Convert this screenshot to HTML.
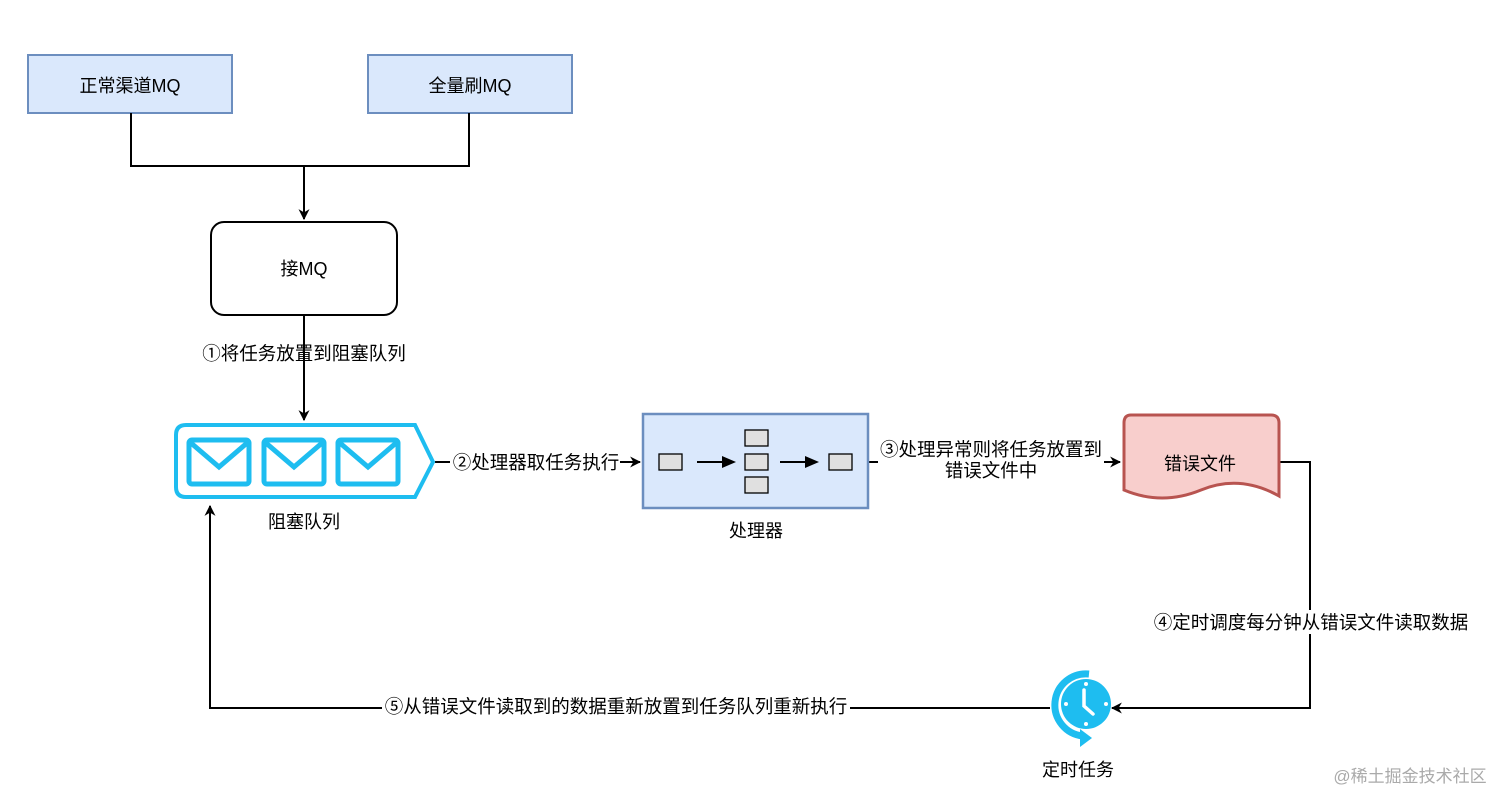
<!DOCTYPE html>
<html><head><meta charset="utf-8"><style>
body{margin:0;background:#fff;}
svg{display:block}
text{font-family:"Liberation Sans","Noto Sans CJK SC",sans-serif;font-size:18px;fill:#000;}
.l{font-size:18.5px}
</style></head><body>
<svg width="1512" height="808" viewBox="0 0 1512 808" xmlns="http://www.w3.org/2000/svg">
<defs>
<marker id="a" viewBox="0 0 10 10" refX="9" refY="5" markerWidth="11" markerHeight="11" orient="auto" markerUnits="userSpaceOnUse"><path d="M0,0 L10,5 L0,10 L3,5 Z" fill="#000"/></marker>
</defs>
<rect x="28" y="55" width="204" height="58" fill="#dae8fc" stroke="#6c8ebf" stroke-width="2"/>
<text x="130" y="92" text-anchor="middle">正常渠道MQ</text>
<rect x="368" y="55" width="204" height="58" fill="#dae8fc" stroke="#6c8ebf" stroke-width="2"/>
<text x="470" y="92" text-anchor="middle">全量刷MQ</text>
<g fill="none" stroke="#000" stroke-width="2">
<path d="M131,113 V166 H469 V113"/>
<path d="M304,166 V219" marker-end="url(#a)"/>
<path d="M304,315 V420" marker-end="url(#a)"/>
<path d="M435,462 H640" marker-end="url(#a)"/>
<path d="M868,462 H1120" marker-end="url(#a)"/>
<path d="M1279,462 H1310 V708 H1112" marker-end="url(#a)"/>
<path d="M1050,708 H210 V506" marker-end="url(#a)"/>
</g>
<rect x="211" y="222" width="186" height="93" rx="13" fill="#fff" stroke="#000" stroke-width="2"/>
<text x="304" y="275" text-anchor="middle">接MQ</text>
<text x="304" y="360" text-anchor="middle" class="l">①将任务放置到阻塞队列</text>
<path d="M186,425 H415 L433,462 L415,497 H186 Q176,497 176,487 V435 Q176,425 186,425 Z" fill="#fff" stroke="#1ebdf0" stroke-width="4"/>
<g fill="none" stroke="#1ebdf0" stroke-width="5">
<rect x="189" y="440" width="60" height="44" rx="3"/><path d="M191,443 L219,467 L247,443"/>
<rect x="264" y="440" width="60" height="44" rx="3"/><path d="M266,443 L294,467 L322,443"/>
<rect x="338" y="440" width="60" height="44" rx="3"/><path d="M340,443 L368,467 L396,443"/>
</g>
<text x="304" y="528" text-anchor="middle">阻塞队列</text>
<rect x="450" y="450" width="170" height="24" fill="#fff"/>
<text x="536" y="469" text-anchor="middle" class="l">②处理器取任务执行</text>
<rect x="643" y="414" width="225" height="94" fill="#dae8fc" stroke="#6c8ebf" stroke-width="2.5"/>
<g fill="#e0e0e0" stroke="#000" stroke-width="1.3">
<rect x="659" y="454" width="23" height="16"/>
<rect x="745" y="430" width="23" height="16"/>
<rect x="745" y="454" width="23" height="16"/>
<rect x="745" y="477" width="23" height="16"/>
<rect x="829" y="454" width="23" height="16"/>
</g>
<g stroke="#000" stroke-width="2" fill="none"><path d="M697,462 H725"/><path d="M780,462 H808"/></g>
<path d="M722,456 L736,462 L722,468 Z"/><path d="M805,456 L819,462 L805,468 Z"/>
<text x="756" y="537" text-anchor="middle">处理器</text>
<rect x="878" y="438" width="226" height="44" fill="#fff"/>
<text x="991" y="456" text-anchor="middle" class="l">③处理异常则将任务放置到</text>
<text x="991" y="477" text-anchor="middle" class="l">错误文件中</text>
<path d="M1131,415 H1271 Q1279,415 1279,423 V496 Q1240,474 1201,490 Q1162,506 1124,490 V423 Q1124,415 1131,415 Z" fill="#f8cecc" stroke="#b85450" stroke-width="3"/>
<text x="1200" y="470" text-anchor="middle">错误文件</text>
<rect x="1152" y="610" width="318" height="24" fill="#fff"/>
<text x="1311" y="629" text-anchor="middle" class="l">④定时调度每分钟从错误文件读取数据</text>
<path d="M1089,674 A31,31 0 0 0 1083,736" fill="none" stroke="#1ebdf0" stroke-width="7"/>
<path d="M1080,729 L1092,738 L1080,747 Z" fill="#1ebdf0"/>
<circle cx="1086" cy="704" r="25" fill="#1ebdf0"/>
<path d="M1084,690 V706 L1093,714" fill="none" stroke="#fff" stroke-width="3.5" stroke-linecap="round"/>
<g fill="#fff"><circle cx="1086" cy="684" r="2"/><circle cx="1086" cy="724" r="2"/><circle cx="1066" cy="704" r="2"/><circle cx="1106" cy="704" r="2"/></g>
<text x="1078" y="776" text-anchor="middle">定时任务</text>
<rect x="382" y="694" width="468" height="24" fill="#fff"/>
<text x="616" y="713" text-anchor="middle" class="l">⑤从错误文件读取到的数据重新放置到任务队列重新执行</text>
<text x="1410" y="782" text-anchor="middle" font-size="17" style="fill:#aaa;font-size:17px">@稀土掘金技术社区</text>
</svg>
</body></html>
